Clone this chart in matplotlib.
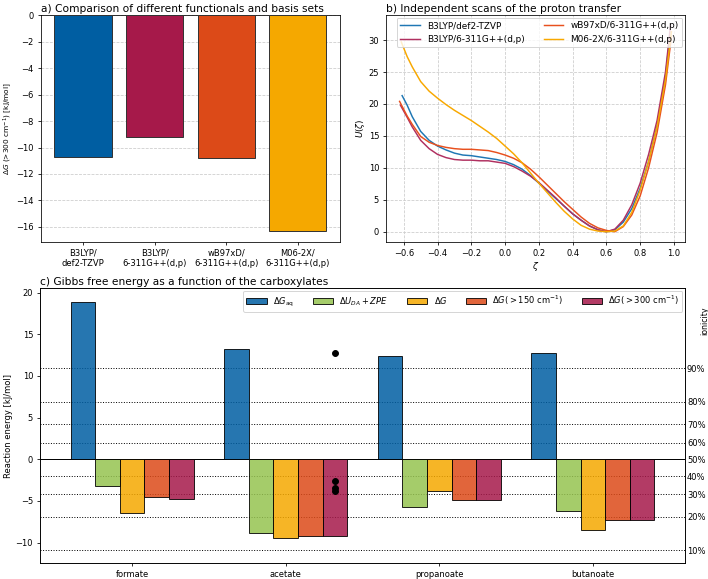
import numpy as np
import matplotlib
matplotlib.use("Agg")
import matplotlib.pyplot as plt
from matplotlib.patches import Patch

plt.rcParams["font.size"] = 9
plt.rcParams["xtick.labelsize"] = 8.5
plt.rcParams["ytick.labelsize"] = 8.5

# panel a: method comparison
methods = ["B3LYP/\ndef2-TZVP", "B3LYP/\n6-311G++(d,p)", "wB97xD/\n6-311G++(d,p)", "M06-2X/\n6-311G++(d,p)"]
dg300_methods = [-10.68, -9.18, -10.83, -16.32]
method_colors = ["#005ea2", "#a6194a", "#dc4a18", "#f5a800"]

# panel b: proton transfer scans
scan_labels = ["B3LYP/def2-TZVP", "B3LYP/6-311G++(d,p)", "wB97xD/6-311G++(d,p)", "M06-2X/6-311G++(d,p)"]
zeta_b3lyp_tz = [-0.61, -0.58, -0.55, -0.5, -0.45, -0.4, -0.35, -0.3, -0.25, -0.2, -0.15, -0.1, -0.05, 0.0,
                 0.05, 0.1, 0.15, 0.2, 0.25, 0.3, 0.35, 0.4, 0.45, 0.5, 0.55, 0.6, 0.65, 0.7, 0.75, 0.8,
                 0.85, 0.9, 0.95, 0.975]
u_b3lyp_tz = [21.3, 19.8, 18.0, 15.7, 14.3, 13.4, 12.8, 12.3, 12.0, 11.9, 11.7, 11.5, 11.3, 11.0,
              10.5, 9.8, 8.8, 7.6, 6.4, 5.2, 4.0, 2.8, 1.8, 0.9, 0.3, 0.0, 0.3, 1.5, 3.6, 6.8,
              11.0, 16.6, 24.3, 30.5]
zeta_b3lyp_6311 = [-0.62, -0.58, -0.55, -0.5, -0.45, -0.4, -0.35, -0.3, -0.25, -0.2, -0.15, -0.1, -0.05, 0.0,
                   0.05, 0.1, 0.15, 0.2, 0.25, 0.3, 0.35, 0.4, 0.45, 0.5, 0.55, 0.6, 0.65, 0.7, 0.75, 0.8,
                   0.85, 0.9, 0.95, 0.98]
u_b3lyp_6311 = [19.8, 17.9, 16.4, 14.3, 13.0, 12.1, 11.6, 11.3, 11.2, 11.2, 11.1, 11.1, 10.9, 10.7,
                10.2, 9.5, 8.7, 7.7, 6.5, 5.3, 4.0, 2.8, 1.8, 0.9, 0.3, 0.0, 0.4, 1.8, 4.2, 7.6,
                12.1, 17.4, 25.0, 32.3]
zeta_wb97xd = [-0.625, -0.58, -0.55, -0.5, -0.45, -0.4, -0.35, -0.3, -0.25, -0.2, -0.15, -0.1, -0.05, 0.0,
               0.05, 0.1, 0.15, 0.2, 0.25, 0.3, 0.35, 0.4, 0.45, 0.5, 0.55, 0.6, 0.65, 0.7, 0.75, 0.8,
               0.85, 0.9, 0.95, 0.985]
u_wb97xd = [20.4, 18.1, 16.8, 14.9, 14.0, 13.5, 13.2, 13.0, 12.9, 12.9, 12.8, 12.7, 12.4, 12.0,
            11.5, 10.8, 9.8, 8.6, 7.3, 6.0, 4.7, 3.5, 2.3, 1.3, 0.6, 0.2, 0.0, 0.8, 2.6, 5.6,
            10.0, 15.5, 23.0, 30.5]
zeta_m062x = [-0.615, -0.58, -0.55, -0.5, -0.45, -0.4, -0.35, -0.3, -0.25, -0.2, -0.15, -0.1, -0.05, 0.0,
              0.05, 0.1, 0.15, 0.2, 0.25, 0.3, 0.35, 0.4, 0.45, 0.5, 0.55, 0.6, 0.65, 0.7, 0.75, 0.8,
              0.85, 0.9, 0.95, 0.985]
u_m062x = [29.7, 27.4, 25.8, 23.5, 22.0, 20.9, 19.9, 19.0, 18.2, 17.4, 16.5, 15.6, 14.6, 13.4,
           12.2, 10.8, 9.2, 7.6, 6.1, 4.6, 3.2, 2.0, 1.0, 0.4, 0.1, 0.0, 0.1, 0.9, 3.0, 6.5,
           11.0, 16.4, 23.8, 31.3]

# panel c: carboxylates
carboxylates = ["formate", "acetate", "propanoate", "butanoate"]
dg_aq = [18.9, 13.2, 12.45, 12.7]
du_da_zpe = [-3.25, -8.8, -5.7, -6.25]
dg = [-6.45, -9.5, -3.85, -8.45]
dg150 = [-4.55, -9.2, -4.85, -7.25]
dg300 = [-4.75, -9.2, -4.85, -7.25]
series_labels = [r"$\Delta G_{\rm aq}$", r"$\Delta U_{DA} + ZPE$", r"$\Delta G$",
                 r"$\Delta G( > 150\ \rm cm^{-1})$", r"$\Delta G( > 300\ \rm cm^{-1})$"]
series_colors = ["#005ea2", "#96c350", "#f5a800", "#dc4a18", "#a6194a"]
acetate_points = [12.7, -2.6, -3.4, -3.8]
ionicity = [0.1, 0.2, 0.3, 0.4, 0.5, 0.6, 0.7, 0.8, 0.9]

RT = 8.314e-3 * 298.15


def ionicity_energy(x):
    return 2 * RT * np.log(x / (1 - x))


fig = plt.figure(figsize=(10, 579 / 70.8), dpi=70.8)

# ---- a) ----
ax_a = fig.add_axes([0.0575, 0.582, 0.4227, 0.392])
xa = np.arange(len(methods))
ax_a.bar(xa, dg300_methods, color=method_colors, edgecolor="#333333", linewidth=1, zorder=3)
ax_a.set_xticks(xa)
ax_a.set_xticklabels(methods)
ax_a.grid(axis="y", linestyle="--", color="#cccccc", linewidth=0.8, zorder=0)
ax_a.set_ylabel(r"$\Delta G$ (>300 cm$^{-1}$) [kJ/mol]", fontsize=7.5, labelpad=2)
ax_a.set_title("a) Comparison of different functionals and basis sets", loc="left", pad=3)

# ---- b) ----
ax_b = fig.add_axes([0.5452, 0.582, 0.4223, 0.392])
scans = [(zeta_b3lyp_tz, u_b3lyp_tz), (zeta_b3lyp_6311, u_b3lyp_6311),
         (zeta_wb97xd, u_wb97xd), (zeta_m062x, u_m062x)]
line_colors = ["#1f77b4", "#b03060", "#e8501e", "#f8a800"]
for (z, u), lab, c in zip(scans, scan_labels, line_colors):
    ax_b.plot(z, u, color=c, label=lab, linewidth=1.5)
ax_b.grid(linestyle="--", color="#cccccc", linewidth=0.8)
ax_b.set_xlabel(r"$\zeta$", labelpad=2)
ax_b.set_ylabel(r"$U(\zeta)$", labelpad=2)
ax_b.legend(ncol=2, loc="upper right", fontsize=9, borderaxespad=0.3, columnspacing=2.2,
            handlelength=2.2)
ax_b.set_title("b) Independent scans of the proton transfer", loc="left", pad=3)

# ---- c) ----
ax_c = fig.add_axes([0.0565, 0.0276, 0.911, 0.475])
xc = np.arange(len(carboxylates))
w = 0.16
all_series = [dg_aq, du_da_zpe, dg, dg150, dg300]
for i, (vals, c) in enumerate(zip(all_series, series_colors)):
    ax_c.bar(xc + (i - 2) * w, vals, width=w, color=c, edgecolor="black", linewidth=1,
             alpha=0.85, zorder=3)
ax_c.plot([xc[1] + 2 * w] * len(acetate_points), acetate_points, "ko", markersize=6, zorder=4)

for x in ionicity:
    e = ionicity_energy(x)
    if abs(e) < 1e-9:
        ax_c.axhline(0, color="black", linewidth=1, zorder=2)
    else:
        ax_c.axhline(e, color="black", linestyle=":", linewidth=1, zorder=2)

ax_c.set_xticks(xc)
ax_c.set_xticklabels(carboxylates)
ax_c.set_xlim(-0.6, 3.6)
ax_c.set_ylim(-12.45, 20.55)
ax_c.set_ylabel("Reaction energy [kJ/mol]", fontsize=8.5, labelpad=3)
ax_c.set_title("c) Gibbs free energy as a function of the carboxylates", loc="left", pad=3)

handles = [Patch(facecolor=c, edgecolor="black", alpha=0.85) for c in series_colors]
ax_c.legend(handles, series_labels, ncol=5, loc="upper right", fontsize=8.5,
            borderaxespad=0.3, columnspacing=2.2, handlelength=2.4)

ax_r = ax_c.twinx()
ax_r.set_ylim(ax_c.get_ylim())
ax_r.set_yticks([ionicity_energy(x) for x in ionicity])
ax_r.set_yticklabels(["%d%%" % round(x * 100) for x in ionicity])
ax_r.tick_params(axis="y", length=0, pad=2)
ax_r.set_ylabel("ionicity", fontsize=8)
ax_r.yaxis.set_label_coords(1.023, 0.88)

fig.savefig("out.png", dpi=70.8)
